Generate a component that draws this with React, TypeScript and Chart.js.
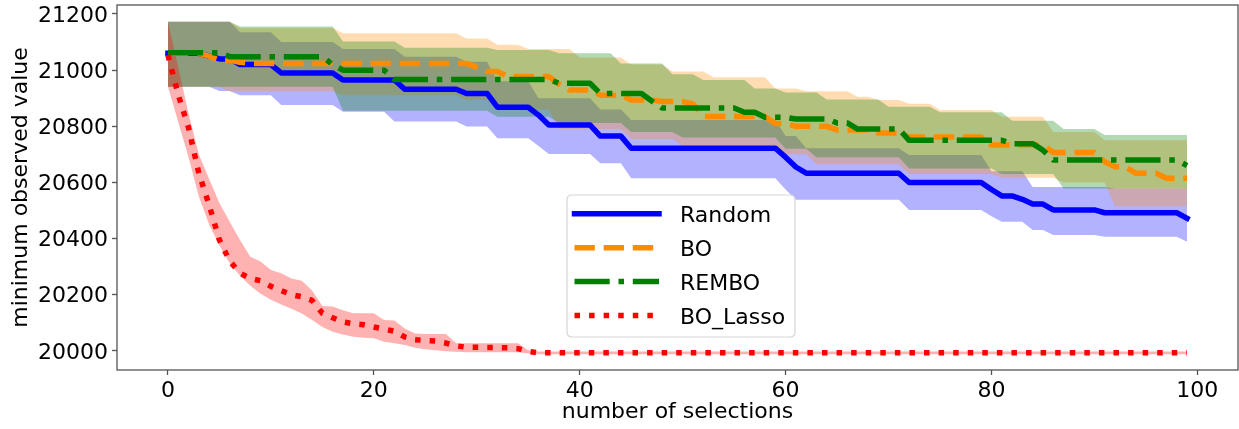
import React, { useEffect, useRef } from 'react';
import { Chart, registerables } from 'chart.js';

Chart.register(...registerables);

// ---------- data ----------
const SERIES_NAMES = ['Random', 'BO', 'REMBO', 'BO_Lasso'];
const X_TICKS = [0, 20, 40, 60, 80, 100];
const Y_TICKS = [20000, 20200, 20400, 20600, 20800, 21000, 21200];
const X_LABEL = 'number of selections';
const Y_LABEL = 'minimum observed value';

const RANDOM_MEAN = [
  21060, 21060, 21060, 21060, 21050, 21040, 21040, 21020, 21020, 21020,
  21020, 20990, 20990, 20990, 20990, 20990, 20990, 20965, 20965, 20965,
  20965, 20965, 20965, 20932, 20932, 20932, 20932, 20932, 20932, 20917,
  20917, 20917, 20868, 20868, 20868, 20868, 20840, 20805, 20805, 20805,
  20805, 20805, 20765, 20765, 20765, 20722, 20722, 20722, 20722, 20722,
  20722, 20722, 20722, 20722, 20722, 20722, 20722, 20722, 20722, 20722,
  20690, 20655, 20633, 20633, 20633, 20633, 20633, 20633, 20633, 20633,
  20633, 20633, 20600, 20600, 20600, 20600, 20600, 20600, 20600, 20600,
  20575, 20552, 20552, 20540, 20523, 20523, 20502, 20502, 20502, 20502,
  20502, 20492, 20492, 20492, 20492, 20492, 20492, 20492, 20492, 20472,
];
const RANDOM_LO = [
  20941, 20941, 20941, 20941, 20941, 20926, 20926, 20911, 20911, 20911,
  20911, 20876, 20876, 20876, 20876, 20876, 20876, 20852, 20852, 20852,
  20852, 20852, 20817, 20817, 20817, 20817, 20817, 20817, 20817, 20799,
  20799, 20799, 20757, 20757, 20757, 20757, 20730, 20701, 20701, 20701,
  20701, 20701, 20668, 20668, 20668, 20615, 20615, 20615, 20615, 20615,
  20615, 20615, 20615, 20615, 20615, 20615, 20615, 20615, 20615, 20615,
  20575, 20538, 20538, 20538, 20538, 20538, 20538, 20538, 20538, 20538,
  20538, 20538, 20502, 20502, 20502, 20502, 20502, 20502, 20502, 20502,
  20480, 20460, 20460, 20460, 20431, 20431, 20413, 20413, 20413, 20413,
  20413, 20407, 20407, 20407, 20407, 20407, 20407, 20407, 20407, 20389,
];
const RANDOM_HI = [
  21172, 21172, 21172, 21172, 21172, 21172, 21172, 21135, 21135, 21135,
  21135, 21100, 21100, 21100, 21100, 21100, 21100, 21075, 21075, 21075,
  21075, 21075, 21075, 21048, 21048, 21048, 21048, 21048, 21048, 21030,
  21030, 21030, 20960, 20960, 20960, 20960, 20900, 20900, 20900, 20900,
  20900, 20900, 20860, 20860, 20860, 20822, 20822, 20822, 20822, 20822,
  20822, 20822, 20822, 20822, 20822, 20822, 20822, 20822, 20822, 20822,
  20765, 20765, 20722, 20722, 20722, 20722, 20722, 20722, 20722, 20722,
  20722, 20722, 20698, 20698, 20698, 20698, 20698, 20698, 20698, 20698,
  20640, 20640, 20640, 20640, 20584, 20584, 20584, 20584, 20584, 20584,
  20584, 20584, 20578, 20578, 20578, 20578, 20578, 20578, 20578, 20578,
];

const BO_MEAN = [
  21060, 21060, 21060, 21060, 21050, 21035, 21035, 21028, 21024, 21024,
  21024, 21024, 21024, 21024, 21024, 21024, 21024, 21024, 21024, 21024,
  21024, 21024, 21024, 21024, 21024, 21024, 21024, 21024, 21024, 21024,
  21010, 20995, 20995, 20977, 20977, 20977, 20977, 20977, 20950, 20929,
  20929, 20929, 20911, 20911, 20911, 20894, 20894, 20894, 20888, 20888,
  20888, 20880, 20835, 20835, 20835, 20835, 20835, 20835, 20835, 20810,
  20810, 20800, 20800, 20800, 20800, 20787, 20787, 20787, 20787, 20776,
  20776, 20776, 20762, 20762, 20762, 20762, 20762, 20762, 20762, 20762,
  20733, 20733, 20733, 20733, 20733, 20733, 20707, 20707, 20707, 20707,
  20707, 20674, 20656, 20656, 20633, 20633, 20633, 20615, 20615, 20615,
];
const BO_LO = [
  20941, 20941, 20941, 20941, 20941, 20941, 20925, 20925, 20925, 20925,
  20925, 20925, 20925, 20925, 20925, 20925, 20925, 20911, 20911, 20911,
  20911, 20911, 20911, 20911, 20911, 20911, 20911, 20911, 20911, 20894,
  20894, 20894, 20860, 20860, 20860, 20860, 20860, 20860, 20790, 20790,
  20790, 20790, 20790, 20790, 20790, 20755, 20755, 20755, 20755, 20755,
  20730, 20730, 20730, 20730, 20730, 20730, 20730, 20730, 20730, 20730,
  20700, 20700, 20700, 20665, 20665, 20665, 20665, 20665, 20665, 20665,
  20665, 20665, 20630, 20630, 20630, 20630, 20630, 20630, 20630, 20630,
  20630, 20617, 20617, 20617, 20617, 20617, 20617, 20600, 20600, 20600,
  20600, 20600, 20515, 20515, 20515, 20515, 20515, 20515, 20515, 20515,
];
const BO_HI = [
  21172, 21172, 21172, 21172, 21172, 21172, 21172, 21150, 21150, 21150,
  21150, 21150, 21150, 21150, 21150, 21150, 21150, 21131, 21131, 21131,
  21131, 21131, 21131, 21131, 21131, 21131, 21131, 21131, 21131, 21113,
  21113, 21113, 21090, 21090, 21090, 21075, 21075, 21075, 21075, 21075,
  21045, 21045, 21045, 21045, 21045, 21020, 21020, 21020, 21020, 20995,
  20995, 20995, 20995, 20975, 20975, 20975, 20975, 20975, 20975, 20935,
  20935, 20935, 20925, 20925, 20925, 20925, 20925, 20905, 20905, 20894,
  20894, 20894, 20880, 20880, 20880, 20858, 20858, 20858, 20858, 20858,
  20858, 20834, 20834, 20834, 20834, 20834, 20780, 20780, 20780, 20780,
  20780, 20750, 20750, 20750, 20750, 20750, 20750, 20750, 20750, 20750,
];

const REMBO_MEAN = [
  21062, 21062, 21062, 21062, 21062, 21062, 21048, 21048, 21048, 21048,
  21048, 21048, 21048, 21048, 21048, 21048, 21020, 21000, 21000, 21000,
  21000, 21000, 20967, 20967, 20967, 20967, 20967, 20967, 20967, 20967,
  20967, 20967, 20967, 20967, 20967, 20967, 20967, 20967, 20953, 20953,
  20953, 20953, 20917, 20917, 20917, 20917, 20917, 20890, 20865, 20865,
  20865, 20865, 20865, 20865, 20865, 20865, 20850, 20850, 20832, 20832,
  20832, 20826, 20826, 20826, 20826, 20812, 20812, 20790, 20790, 20790,
  20790, 20790, 20750, 20750, 20750, 20750, 20750, 20750, 20750, 20750,
  20750, 20750, 20738, 20738, 20738, 20715, 20680, 20680, 20680, 20680,
  20680, 20680, 20680, 20680, 20680, 20680, 20680, 20680, 20680, 20660,
];
const REMBO_LO = [
  20941, 20941, 20941, 20941, 20941, 20941, 20941, 20941, 20941, 20941,
  20941, 20941, 20941, 20941, 20941, 20941, 20941, 20855, 20855, 20855,
  20855, 20855, 20855, 20855, 20855, 20855, 20855, 20855, 20855, 20855,
  20855, 20855, 20834, 20834, 20834, 20834, 20834, 20834, 20812, 20812,
  20812, 20812, 20812, 20812, 20812, 20780, 20780, 20780, 20780, 20780,
  20760, 20760, 20760, 20760, 20760, 20760, 20760, 20760, 20760, 20760,
  20720, 20720, 20720, 20690, 20690, 20690, 20690, 20690, 20690, 20690,
  20690, 20690, 20650, 20650, 20650, 20650, 20650, 20650, 20650, 20650,
  20650, 20630, 20630, 20630, 20630, 20630, 20630, 20578, 20578, 20578,
  20578, 20578, 20578, 20578, 20578, 20578, 20578, 20578, 20578, 20578,
];
const REMBO_HI = [
  21172, 21172, 21172, 21172, 21172, 21172, 21172, 21155, 21155, 21155,
  21155, 21155, 21155, 21155, 21155, 21155, 21155, 21102, 21102, 21102,
  21102, 21102, 21102, 21080, 21080, 21080, 21080, 21080, 21080, 21080,
  21080, 21080, 21072, 21072, 21072, 21072, 21072, 21072, 21060, 21060,
  21060, 21060, 21060, 21060, 21024, 21024, 21024, 21024, 21024, 20985,
  20985, 20985, 20965, 20965, 20965, 20965, 20965, 20935, 20935, 20935,
  20920, 20920, 20920, 20920, 20895, 20895, 20895, 20895, 20895, 20895,
  20870, 20870, 20870, 20870, 20870, 20850, 20850, 20850, 20850, 20850,
  20850, 20850, 20820, 20820, 20820, 20820, 20820, 20790, 20790, 20790,
  20790, 20769, 20769, 20769, 20769, 20769, 20769, 20769, 20769, 20769,
];

const LASSO_MEAN = [
  21054, 20912, 20795, 20633, 20520, 20395, 20320, 20277, 20258, 20250,
  20230, 20215, 20200, 20193, 20180, 20134, 20118, 20103, 20097, 20093,
  20085, 20078, 20070, 20050, 20040, 20037, 20035, 20028, 20018, 20013,
  20013, 20012, 20012, 20011, 20008, 19998, 19993, 19993, 19993, 19993,
  19993, 19993, 19993, 19993, 19993, 19993, 19993, 19993, 19993, 19993,
  19993, 19993, 19993, 19993, 19993, 19993, 19993, 19993, 19993, 19993,
  19993, 19993, 19993, 19993, 19993, 19993, 19993, 19993, 19993, 19993,
  19993, 19993, 19993, 19993, 19993, 19993, 19993, 19993, 19993, 19993,
  19993, 19993, 19993, 19993, 19993, 19993, 19993, 19993, 19993, 19993,
  19993, 19993, 19993, 19993, 19993, 19993, 19993, 19993, 19993, 19993,
];
const LASSO_LO = [
  20941, 20815, 20690, 20550, 20450, 20375, 20312, 20268, 20232, 20204,
  20182, 20165, 20150, 20133, 20110, 20085, 20068, 20058, 20050, 20047,
  20045, 20033, 20027, 20021, 20011, 20006, 20002, 19999, 19997, 19995,
  19995, 19995, 19995, 19995, 19995, 19991, 19988, 19988, 19988, 19988,
  19988, 19988, 19988, 19988, 19988, 19988, 19988, 19988, 19988, 19988,
  19988, 19988, 19988, 19988, 19988, 19988, 19988, 19988, 19988, 19988,
  19988, 19988, 19988, 19988, 19988, 19988, 19988, 19988, 19988, 19988,
  19988, 19988, 19988, 19988, 19988, 19988, 19988, 19988, 19988, 19988,
  19988, 19988, 19988, 19988, 19988, 19988, 19988, 19988, 19988, 19988,
  19988, 19988, 19988, 19988, 19988, 19988, 19988, 19988, 19988, 19988,
];
const LASSO_HI = [
  21172, 21010, 20846, 20700, 20612, 20527, 20460, 20395, 20335, 20318,
  20288, 20277, 20258, 20250, 20215, 20160, 20158, 20145, 20134, 20134,
  20134, 20110, 20108, 20080, 20062, 20060, 20060, 20060, 20027, 20027,
  20027, 20027, 20027, 20027, 20027, 20002, 19998, 19998, 19998, 19998,
  19998, 19998, 19998, 19998, 19998, 19998, 19998, 19998, 19998, 19998,
  19998, 19998, 19998, 19998, 19998, 19998, 19998, 19998, 19998, 19998,
  19998, 19998, 19998, 19998, 19998, 19998, 19998, 19998, 19998, 19998,
  19998, 19998, 19998, 19998, 19998, 19998, 19998, 19998, 19998, 19998,
  19998, 19998, 19998, 19998, 19998, 19998, 19998, 19998, 19998, 19998,
  19998, 19998, 19998, 19998, 19998, 19998, 19998, 19998, 19998, 19998,
];

// ---------- styling ----------
const FONT = 'DejaVu Sans';
const FONT_SIZE = 22;
const LW = 5.5;
const AXIS_COLOR = '#555555';

const STYLES = [
  { color: '#0000ff', band: 'rgba(0,0,255,0.3)', dash: [] as number[], cap: 'square' as CanvasLineCap },
  { color: '#ff8c00', band: 'rgba(255,140,0,0.3)', dash: [3.7 * LW, 1.6 * LW], cap: 'butt' as CanvasLineCap },
  { color: '#008000', band: 'rgba(0,128,0,0.3)', dash: [6.4 * LW, 1.6 * LW, 1 * LW, 1.6 * LW], cap: 'butt' as CanvasLineCap },
  { color: '#ff0000', band: 'rgba(255,0,0,0.3)', dash: [1 * LW, 1.65 * LW], cap: 'butt' as CanvasLineCap },
];

const SERIES = [
  { mean: RANDOM_MEAN, lo: RANDOM_LO, hi: RANDOM_HI },
  { mean: BO_MEAN, lo: BO_LO, hi: BO_HI },
  { mean: REMBO_MEAN, lo: REMBO_LO, hi: REMBO_HI },
  { mean: LASSO_MEAN, lo: LASSO_LO, hi: LASSO_HI },
];

const pts = (arr: number[]) => arr.map((v, i) => ({ x: i, y: v }));

const framePlugin = {
  id: 'frame',
  afterDatasetsDraw(chart: any) {
    const { ctx, chartArea: ca } = chart;
    ctx.save();
    ctx.strokeStyle = AXIS_COLOR;
    ctx.lineWidth = 1.3;
    ctx.strokeRect(ca.left, ca.top, ca.right - ca.left, ca.bottom - ca.top);
    ctx.restore();
  },
};

const legendPlugin = {
  id: 'customLegend',
  afterDraw(chart: any) {
    const { ctx, chartArea: ca } = chart;
    const bx = ca.left + 450;
    const by = ca.top + 190;
    const bw = 228;
    const bh = 142;
    ctx.save();
    ctx.beginPath();
    const r = 5;
    ctx.moveTo(bx + r, by);
    ctx.lineTo(bx + bw - r, by);
    ctx.quadraticCurveTo(bx + bw, by, bx + bw, by + r);
    ctx.lineTo(bx + bw, by + bh - r);
    ctx.quadraticCurveTo(bx + bw, by + bh, bx + bw - r, by + bh);
    ctx.lineTo(bx + r, by + bh);
    ctx.quadraticCurveTo(bx, by + bh, bx, by + bh - r);
    ctx.lineTo(bx, by + r);
    ctx.quadraticCurveTo(bx, by, bx + r, by);
    ctx.closePath();
    ctx.fillStyle = 'rgba(255,255,255,0.8)';
    ctx.fill();
    ctx.strokeStyle = '#d6d6d6';
    ctx.lineWidth = 1.2;
    ctx.stroke();

    SERIES_NAMES.forEach((name, i) => {
      const st = STYLES[i];
      const y = by + 18.8 + i * 33.9;
      ctx.beginPath();
      ctx.setLineDash(st.dash);
      ctx.lineCap = st.cap;
      ctx.strokeStyle = st.color;
      ctx.lineWidth = LW;
      ctx.moveTo(bx + 7.5, y);
      ctx.lineTo(bx + 92, y);
      ctx.stroke();
      ctx.setLineDash([]);
      ctx.fillStyle = '#000';
      ctx.font = `${FONT_SIZE}px "${FONT}"`;
      ctx.textBaseline = 'alphabetic';
      ctx.textAlign = 'left';
      ctx.fillText(name, bx + 113, y + 8);
    });
    ctx.restore();
  },
};

export default function App() {
  const ref = useRef<HTMLCanvasElement | null>(null);

  useEffect(() => {
    if (!ref.current) return;
    const datasets: any[] = [];
    SERIES.forEach((s, k) => {
      const st = STYLES[k];
      const loIndex = datasets.length;
      datasets.push({
        label: SERIES_NAMES[k] + ' lower',
        data: pts(s.lo),
        borderWidth: 0,
        pointRadius: 0,
        fill: false,
        order: 20 - k,
      });
      datasets.push({
        label: SERIES_NAMES[k] + ' band',
        data: pts(s.hi),
        borderWidth: 0,
        pointRadius: 0,
        backgroundColor: st.band,
        fill: { target: loIndex },
        order: 20 - k,
      });
    });
    SERIES.forEach((s, k) => {
      const st = STYLES[k];
      datasets.push({
        label: SERIES_NAMES[k],
        data: pts(s.mean),
        borderColor: st.color,
        borderWidth: LW,
        borderDash: st.dash,
        borderCapStyle: st.cap,
        borderJoinStyle: 'round',
        pointRadius: 0,
        tension: 0,
        fill: false,
        order: 4 - k,
      });
    });

    const font = { family: FONT, size: FONT_SIZE };
    const chart = new Chart(ref.current, {
      type: 'line',
      data: { datasets },
      options: {
        animation: false,
        responsive: false,
        devicePixelRatio: 1,
        layout: { padding: { top: 5, right: 1, left: 0, bottom: 0 } },
        plugins: {
          legend: { display: false },
          tooltip: { enabled: false },
        },
        scales: {
          x: {
            type: 'linear',
            min: -4.95,
            max: 103.95,
            afterBuildTicks: (s: any) => {
              s.ticks = X_TICKS.map((v) => ({ value: v }));
            },
            afterFit: (s: any) => {
              s.height = 59;
              s.paddingLeft = 0;
              s.paddingRight = 0;
            },
            grid: {
              drawOnChartArea: false,
              drawTicks: true,
              tickLength: 5,
              tickColor: AXIS_COLOR,
              tickWidth: 1.3,
            },
            border: { display: false },
            ticks: {
              font,
              color: '#000',
              padding: 3,
              maxRotation: 0,
              autoSkip: false,
              callback: (v: any) => String(v),
            },
            title: {
              display: true,
              text: X_LABEL,
              font,
              color: '#000',
              padding: { top: 0, bottom: 4 },
            },
          },
          y: {
            type: 'linear',
            min: 19932,
            max: 21232,
            afterBuildTicks: (s: any) => {
              s.ticks = Y_TICKS.map((v) => ({ value: v }));
            },
            afterFit: (s: any) => {
              s.width = 117;
              s.paddingTop = 0;
              s.paddingBottom = 0;
            },
            grid: {
              drawOnChartArea: false,
              drawTicks: true,
              tickLength: 5,
              tickColor: AXIS_COLOR,
              tickWidth: 1.3,
            },
            border: { display: false },
            ticks: {
              font,
              color: '#000',
              padding: 4,
              labelOffset: 2,
              autoSkip: false,
              callback: (v: any) => String(v),
            },
            title: {
              display: true,
              text: Y_LABEL,
              font,
              color: '#000',
              padding: { top: 8, bottom: 0 },
            },
          },
        },
      },
      plugins: [framePlugin, legendPlugin],
    });
    return () => chart.destroy();
  }, []);

  return (
    <div style={{ position: 'fixed', left: 0, top: 0, width: 1239, height: 429, background: '#fff' }}>
      <canvas ref={ref} width={1239} height={429} style={{ display: 'block', width: 1239, height: 429 }} />
    </div>
  );
}
